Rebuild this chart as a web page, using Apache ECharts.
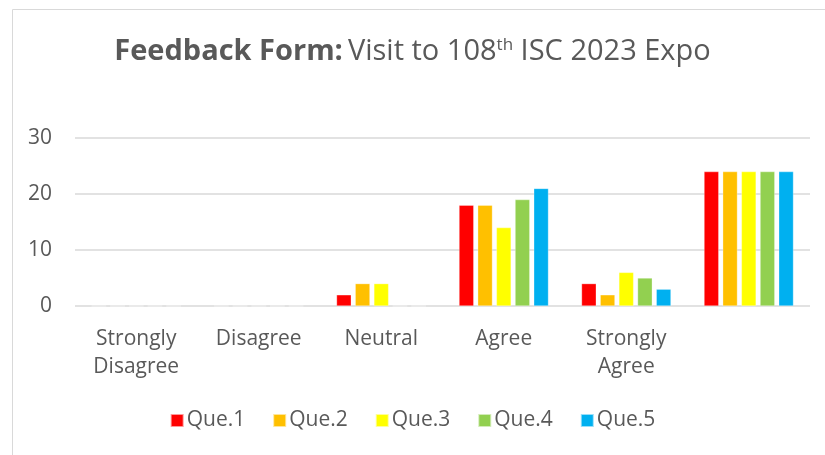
<!DOCTYPE html>
<html>
<head>
<meta charset="utf-8">
<script src="https://cdn.jsdelivr.net/npm/echarts@6/dist/echarts.min.js"></script>
<style>
html,body{margin:0;padding:0;background:#fff;}
#chart{width:825px;height:455px;}
</style>
</head>
<body>
<div id="chart"></div>
<script>
const categories = ['Strongly\nDisagree', 'Disagree', 'Neutral', 'Agree', 'Strongly\nAgree', ''];
const seriesNames = ['Que.1', 'Que.2', 'Que.3', 'Que.4', 'Que.5'];
const que1 = [0, 0, 2, 18, 4, 24];
const que2 = [0, 0, 4, 18, 2, 24];
const que3 = [0, 0, 4, 14, 6, 24];
const que4 = [0, 0, 0, 19, 5, 24];
const que5 = [0, 0, 0, 21, 3, 24];
const colors = ['#FF0000', '#FFC000', '#FFFF00', '#92D050', '#00B0F0'];
const yTicks = [0, 10, 20, 30];

const values = [que1, que2, que3, que4, que5];
const FONT = '"Open Sans"';
const chart = echarts.init(document.getElementById('chart'), null, {renderer: 'canvas'});
chart.setOption({
  animation: false,
  color: colors,
  graphic: [{
    type: 'rect', left: 10, top: 7, z: -1,
    shape: {width: 900, height: 600},
    style: {fill: 'none', stroke: '#d9d9d9', lineWidth: 1}
  }],
  title: {
    text: '{b|Feedback Form:} {n|Visit to 108}{s|th}{n| ISC 2023 Expo}',
    left: 'center',
    top: 27,
    textStyle: {
      rich: {
        b: {fontFamily: FONT, fontSize: 29, fontWeight: 'bold', color: '#595959', lineHeight: 40},
        n: {fontFamily: FONT, fontSize: 29, fontWeight: 'normal', color: '#595959', lineHeight: 40},
        s: {fontFamily: FONT, fontSize: 17, fontWeight: 'normal', color: '#595959', lineHeight: 40, padding: [0, 0, 14, 0]}
      }
    }
  },
  legend: {
    bottom: 19,
    left: 'center',
    itemWidth: 13,
    itemHeight: 13,
    itemGap: 27,
    icon: 'rect',
    textStyle: {fontFamily: FONT, fontSize: 21, color: '#595959', padding: [0, 0, 0, -2]},
    data: seriesNames
  },
  grid: {left: 75, right: 15, top: 138, bottom: 149, containLabel: false},
  xAxis: {
    type: 'category',
    data: categories,
    axisLine: {show: false},
    axisTick: {show: false},
    axisLabel: {fontFamily: FONT, fontSize: 21, color: '#595959', margin: 19, lineHeight: 28, interval: 0}
  },
  yAxis: {
    type: 'value',
    min: 0, max: 30, interval: 10,
    axisLine: {show: false},
    axisTick: {show: false},
    splitLine: {lineStyle: {color: '#d9d9d9', width: 1.5}},
    axisLabel: {fontFamily: FONT, fontSize: 21, color: '#595959', margin: 23,
      formatter: v => yTicks.includes(v) ? String(v) : ''}
  },
  series: seriesNames.map((name, i) => ({
    name: name,
    type: 'bar',
    data: values[i],
    barGap: '27%',
    barCategoryGap: '27%',
    itemStyle: {color: colors[i], borderColor: 'rgba(255,255,255,0.6)', borderWidth: 0.5}
  }))
});
</script>
</body>
</html>
